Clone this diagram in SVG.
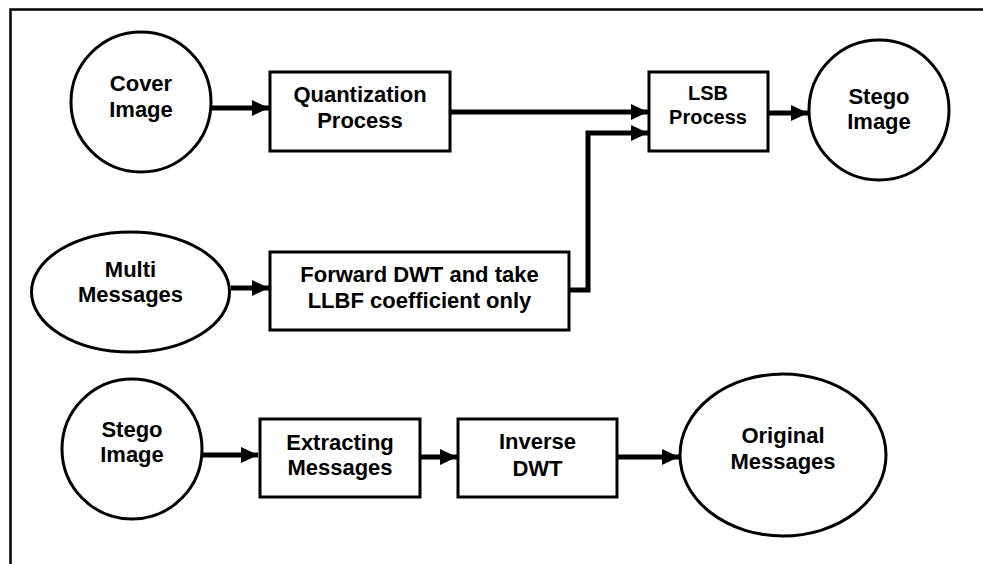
<svg xmlns="http://www.w3.org/2000/svg" width="983" height="564" viewBox="0 0 983 564">
<style>
  .shape { fill: #fff; stroke: #000; stroke-width: 3; }
  .lbl { font-family: "Liberation Sans", Arial, sans-serif; font-weight: bold; font-size: 22px; fill: #000; text-anchor: middle; }
  .sm { font-size: 20px; }
  .conn { fill: none; stroke: #000; stroke-width: 5; }
  .frame { fill: none; stroke: #000; stroke-width: 2.5; }
</style>
<defs>
  <marker id="arr" markerUnits="userSpaceOnUse" markerWidth="18" markerHeight="18" viewBox="0 0 18 18" refX="17" refY="9" orient="auto">
    <path d="M0,1 L17,9 L0,17 Z" fill="#000"/>
  </marker>
</defs>
<rect width="983" height="564" fill="#fff"/>
<path class="frame" d="M10.5,564 L10.5,9.5 L983,9.5"/>

<g id="connectors">
  <line class="conn" x1="212" y1="108" x2="269" y2="108" marker-end="url(#arr)"/>
  <line class="conn" x1="451" y1="112" x2="648" y2="112" marker-end="url(#arr)"/>
  <path class="conn" d="M570,290 L588,290 L588,133 L648,133" marker-end="url(#arr)"/>
  <line class="conn" x1="769" y1="113" x2="808" y2="113" marker-end="url(#arr)"/>
  <line class="conn" x1="231" y1="288" x2="269" y2="288" marker-end="url(#arr)"/>
  <line class="conn" x1="202" y1="455" x2="258" y2="455" marker-end="url(#arr)"/>
  <line class="conn" x1="421" y1="457" x2="457" y2="457" marker-end="url(#arr)"/>
  <line class="conn" x1="618" y1="457" x2="679" y2="457" marker-end="url(#arr)"/>
</g>

<g id="cover-image">
  <circle class="shape" cx="141" cy="102" r="70"/>
  <text class="lbl" x="141" y="91">Cover</text>
  <text class="lbl" x="141" y="117">Image</text>
</g>
<g id="quantization">
  <rect class="shape" x="270" y="72" width="180" height="79"/>
  <text class="lbl" x="360" y="102">Quantization</text>
  <text class="lbl" x="360" y="128">Process</text>
</g>
<g id="lsb">
  <rect class="shape" x="649" y="72" width="119" height="79"/>
  <text class="lbl sm" x="708" y="100">LSB</text>
  <text class="lbl sm" x="708" y="124">Process</text>
</g>
<g id="stego-image-top">
  <circle class="shape" cx="879" cy="110" r="70"/>
  <text class="lbl" x="879" y="104">Stego</text>
  <text class="lbl" x="879" y="129">Image</text>
</g>
<g id="multi-messages">
  <ellipse class="shape" cx="130.5" cy="292" rx="99" ry="60"/>
  <text class="lbl" x="130.5" y="277">Multi</text>
  <text class="lbl" x="130.5" y="302">Messages</text>
</g>
<g id="forward-dwt">
  <rect class="shape" x="270" y="252" width="299" height="78"/>
  <text class="lbl" x="419.5" y="282">Forward DWT and take</text>
  <text class="lbl" x="419.5" y="308">LLBF coefficient only</text>
</g>
<g id="stego-image-bottom">
  <circle class="shape" cx="132" cy="449" r="70"/>
  <text class="lbl" x="132" y="437">Stego</text>
  <text class="lbl" x="132" y="462">Image</text>
</g>
<g id="extracting">
  <rect class="shape" x="260" y="419" width="160" height="78"/>
  <text class="lbl" x="340" y="450">Extracting</text>
  <text class="lbl" x="340" y="475">Messages</text>
</g>
<g id="inverse-dwt">
  <rect class="shape" x="458" y="419" width="159" height="78"/>
  <text class="lbl" x="537.5" y="449">Inverse</text>
  <text class="lbl" x="537.5" y="476">DWT</text>
</g>
<g id="original-messages">
  <ellipse class="shape" cx="783" cy="455" rx="103" ry="81"/>
  <text class="lbl" x="783" y="443">Original</text>
  <text class="lbl" x="783" y="469">Messages</text>
</g>
</svg>
